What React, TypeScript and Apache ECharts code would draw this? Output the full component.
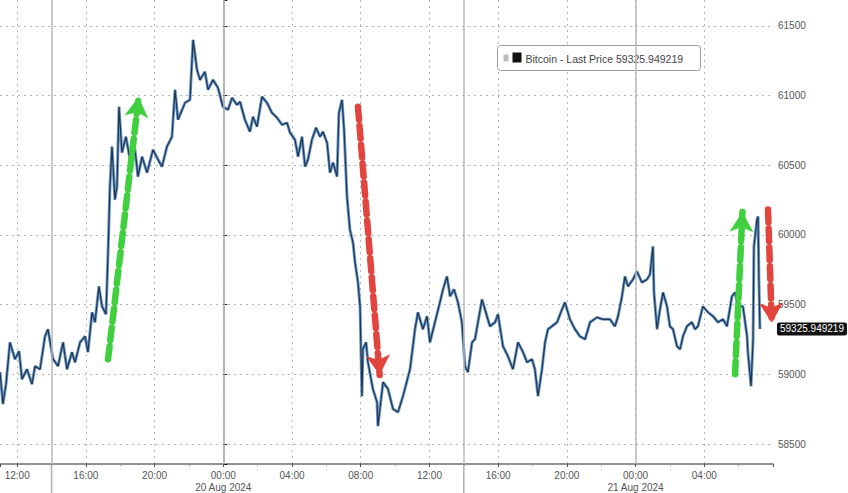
import React, { useEffect, useRef } from "react";
import * as echarts from "echarts";

// Hours relative to 20 Aug 2024 00:00
const hours = [
  -13.0, -12.83, -12.65, -12.42, -12.13, -11.89, -11.72, -11.43, -11.14, -10.96,
  -10.67, -10.38, -10.21, -9.91, -9.62, -9.33, -9.1, -8.81, -8.63, -8.34,
  -8.05, -7.88, -7.64, -7.47, -7.24, -7.06, -6.83, -6.71, -6.6, -6.48,
  -6.31, -6.19, -6.07, -5.9, -5.67, -5.43, -5.14, -4.97, -4.73, -4.44,
  -4.09, -3.8, -3.57, -3.28, -2.99, -2.81, -2.64, -2.23, -1.94, -1.76,
  -1.53, -1.36, -1.07, -0.89, -0.6, -0.31, -0.02, 0.27, 0.51, 0.8,
  0.97, 1.26, 1.55, 1.73, 1.96, 2.25, 2.54, 2.83, 3.13, 3.42,
  3.71, 3.88, 4.17, 4.35, 4.58, 4.76, 4.93, 5.16, 5.4, 5.63,
  5.8, 6.04, 6.21, 6.39, 6.62, 6.73, 6.91, 7.03, 7.2, 7.37,
  7.55, 7.67, 7.84, 7.96, 8.07, 8.13, 8.31, 8.42, 8.71, 8.95,
  9.0, 9.3, 9.59, 9.88, 10.17, 10.46, 10.87, 11.16, 11.33, 11.62,
  11.86, 12.03, 12.32, 12.61, 12.79, 13.02, 13.2, 13.43, 13.66, 13.89,
  14.07, 14.24, 14.48, 14.65, 15.06, 15.23, 15.52, 15.82, 15.99, 16.28,
  16.57, 16.86, 17.16, 17.45, 17.68, 17.97, 18.14, 18.32, 18.55, 18.73,
  18.9, 19.13, 19.43, 19.72, 19.89, 20.18, 20.47, 20.76, 21.06, 21.35,
  21.75, 22.1, 22.51, 22.8, 22.98, 23.21, 23.38, 23.56, 23.85, 24.08,
  24.37, 24.66, 24.84, 25.01, 25.07, 25.25, 25.42, 25.6, 25.83, 26.0,
  26.18, 26.41, 26.59, 26.76, 26.99, 27.28, 27.46, 27.63, 27.92, 28.22,
  28.51, 28.8, 29.09, 29.32, 29.61, 29.79, 29.96, 30.25, 30.49, 30.54,
  30.72, 30.84, 30.89, 31.07, 31.13, 31.18, 31.24,
];

const prices = [
  59016, 58787, 58930, 59230, 59109, 59166, 58966, 59037, 58930, 59059,
  59037, 59273, 59324, 59109, 59059, 59230, 59037, 59159, 59087, 59230,
  59273, 59159, 59445, 59374, 59631, 59488, 59431, 59875, 60347, 60634,
  60254, 60347, 60920, 60591, 60705, 60541, 60612, 60419, 60562, 60447,
  60612, 60541, 60490, 60634, 60705, 61042, 60827, 60949, 60970, 61400,
  61185, 61113, 61171, 61042, 61113, 61056, 60920, 60899, 60984, 60934,
  60956, 60827, 60741, 60848, 60777, 60992, 60949, 60877, 60841, 60791,
  60805, 60734, 60684, 60562, 60705, 60490, 60541, 60684, 60770, 60705,
  60741, 60662, 60447, 60519, 60419, 60877, 60970, 60755, 60276, 60039,
  59946, 59803, 59660, 59488, 58844, 59180, 59230, 59087, 58894, 58801,
  58629, 58944, 58894, 58751, 58729, 58844, 59037, 59324, 59445, 59324,
  59417, 59230, 59374, 59517, 59610, 59703, 59560, 59610, 59517, 59374,
  59059, 59016, 59230, 59252, 59538, 59467, 59345, 59374, 59431, 59202,
  59130, 59037, 59230, 59159, 59087, 59109, 59037, 58844, 59037, 59230,
  59324, 59345, 59374, 59467, 59517, 59395, 59324, 59273, 59252, 59374,
  59409, 59395, 59395, 59345, 59417, 59560, 59703, 59631, 59681, 59739,
  59660, 59681, 59717, 59918, 59588, 59324, 59467, 59588, 59488, 59345,
  59324, 59202, 59180, 59273, 59345, 59374, 59324, 59345, 59488, 59445,
  59417, 59374, 59395, 59345, 59560, 59588, 59488, 59488, 59273, 59159,
  58915, 59252, 59918, 60111, 60132, 59681, 59325.949219,
];

const lastPrice = 59325.949219;
const seriesName = "Bitcoin - Last Price";
const dayLines = [0, 24];
const dayLabels = ["20 Aug 2024", "21 Aug 2024"];
const sessionLines = [-10, 14];

// Annotation arrows in data coordinates [hour, price]
const upArrows = [
  { from: [-6.71, 59109], to: [-4.93, 60990] },
  { from: [29.79, 59001], to: [30.22, 60165] },
];
const downArrows = [
  { from: [7.84, 60920], to: [9.1, 58995] },
  { from: [31.71, 60183], to: [31.93, 59370] },
];

const X_MIN = -13;
const X_MAX = 32;
const Y_MIN = 58357;
const Y_MAX = 61686;
const FONT = "'Liberation Sans', Arial, sans-serif";

function pad(n: number) {
  return (n < 10 ? "0" : "") + n;
}

export default function App() {
  const ref = useRef<HTMLDivElement>(null);

  useEffect(() => {
    document.body.style.margin = "0";
    if (!ref.current) return;
    const chart = echarts.init(ref.current, null, { renderer: "svg" });
    const data = hours.map((h, i) => [h, prices[i]]);

    const arrowItems = (list: any[], color: string) =>
      list.map((a) => [
        { coord: a.from, symbol: "none", lineStyle: { color } },
        { coord: a.to, symbol: "arrow", symbolSize: [18, 20], lineStyle: { color } },
      ]);

    const dotted = { color: "#b5b5b5", width: 1, type: [2, 4] as any };

    chart.setOption({
      animation: false,
      backgroundColor: "#ffffff",
      grid: { left: 0, right: 75, top: 0, bottom: 28 },
      xAxis: {
        type: "value",
        min: X_MIN,
        max: X_MAX,
        minInterval: 4,
        maxInterval: 4,
        axisLine: { show: true, lineStyle: { color: "#6e6e6e", width: 1.5 } },
        axisTick: { show: true, length: 3, lineStyle: { color: "#555" } },
        minorTick: { show: true, splitNumber: 2, length: 2, lineStyle: { color: "#999" } },
        axisLabel: {
          color: "#555",
          fontSize: 10,
          fontFamily: FONT,
          margin: 5,
          lineHeight: 12,
          showMinLabel: false,
          showMaxLabel: false,
          formatter: (v: number) => {
            const hh = ((Math.round(v) % 24) + 24) % 24;
            const base = pad(hh) + ":00";
            const di = dayLines.indexOf(Math.round(v));
            return di >= 0 ? base + "\n" + dayLabels[di] : base;
          },
        },
        splitLine: { show: true, showMinLine: false, showMaxLine: false, lineStyle: dotted },
      },
      yAxis: {
        type: "value",
        position: "right",
        min: Y_MIN,
        max: Y_MAX,
        minInterval: 500,
        maxInterval: 500,
        axisLine: { show: true, lineStyle: { color: "#9a9a9a", width: 1.5 } },
        axisTick: { show: true, length: 4, lineStyle: { color: "#222" } },
        minorTick: { show: true, splitNumber: 2, length: 2, lineStyle: { color: "#aaa" } },
        axisLabel: {
          color: "#555",
          fontSize: 10,
          fontFamily: FONT,
          margin: 5,
          showMinLabel: false,
          showMaxLabel: false,
          formatter: (v: number) => String(v),
        },
        splitLine: { show: true, showMinLine: false, showMaxLine: false, lineStyle: dotted },
      },
      series: [
        {
          type: "line",
          name: seriesName + " glow",
          data,
          showSymbol: false,
          symbol: "none",
          silent: true,
          lineStyle: { color: "#5d8fc4", width: 3, opacity: 0.9 },
          markLine: {
            silent: true,
            symbol: "none",
            label: { show: false },
            lineStyle: { color: "#b8b8b8", width: 1.5, type: "solid" },
            data: [...dayLines, ...sessionLines].map((x) => ({ xAxis: x })),
          },
          z: 2,
        },
        {
          type: "line",
          name: seriesName,
          data,
          showSymbol: false,
          symbol: "none",
          silent: true,
          lineStyle: { color: "#1f3550", width: 1.2 },
          markLine: {
            silent: true,
            symbol: "none",
            lineStyle: { color: "rgba(0,0,0,0)", width: 1, type: "solid" },
            label: {
              show: true,
              position: "end",
              distance: 4,
              formatter: String(lastPrice),
              color: "#ffffff",
              backgroundColor: "#111111",
              borderRadius: 2,
              padding: [2, 3, 1, 3],
              fontSize: 10,
              fontFamily: FONT,
            },
            data: [{ yAxis: lastPrice }],
          },
          z: 3,
        },
        {
          type: "line",
          name: "arrows",
          data: [],
          silent: true,
          markLine: {
            silent: true,
            label: { show: false },
            lineStyle: { width: 6.5, type: [13, 6], cap: "round" },
            data: [
              ...arrowItems(upArrows, "#3fcf3f"),
              ...arrowItems(downArrows, "#e2453e"),
            ],
          },
          z: 5,
        },
      ],
    });

    const extra: any[] = [];
    sessionLines.forEach((x) => {
      const p = chart.convertToPixel({ gridIndex: 0 }, [x, Y_MIN]) as number[];
      extra.push({
        type: "line",
        silent: true,
        shape: { x1: p[0], y1: p[1], x2: p[0], y2: 493 },
        style: { stroke: "#b0b0b0", lineWidth: 1.5 },
      });
    });

    chart.setOption({
      graphic: [
        ...extra,
        {
          type: "group",
          left: 497,
          top: 45,
          children: [
            {
              type: "rect",
              shape: { x: 0, y: 0, width: 203, height: 25, r: 3 },
              style: { fill: "#ffffff", stroke: "#9c9c9c", lineWidth: 1 },
            },
            {
              type: "rect",
              shape: { x: 6, y: 9, width: 5, height: 7 },
              style: { fill: "#bdbdbd" },
            },
            {
              type: "rect",
              shape: { x: 15, y: 7, width: 9, height: 10 },
              style: { fill: "#111111" },
            },
            {
              type: "text",
              x: 28,
              y: 13,
              style: {
                text: seriesName + " " + lastPrice,
                fill: "#444",
                fontSize: 10.5,
                fontFamily: FONT,
                verticalAlign: "middle",
              },
            },
          ],
        },
      ],
    });

    return () => chart.dispose();
  }, []);

  return <div ref={ref} style={{ width: 848, height: 493 }} />;
}
